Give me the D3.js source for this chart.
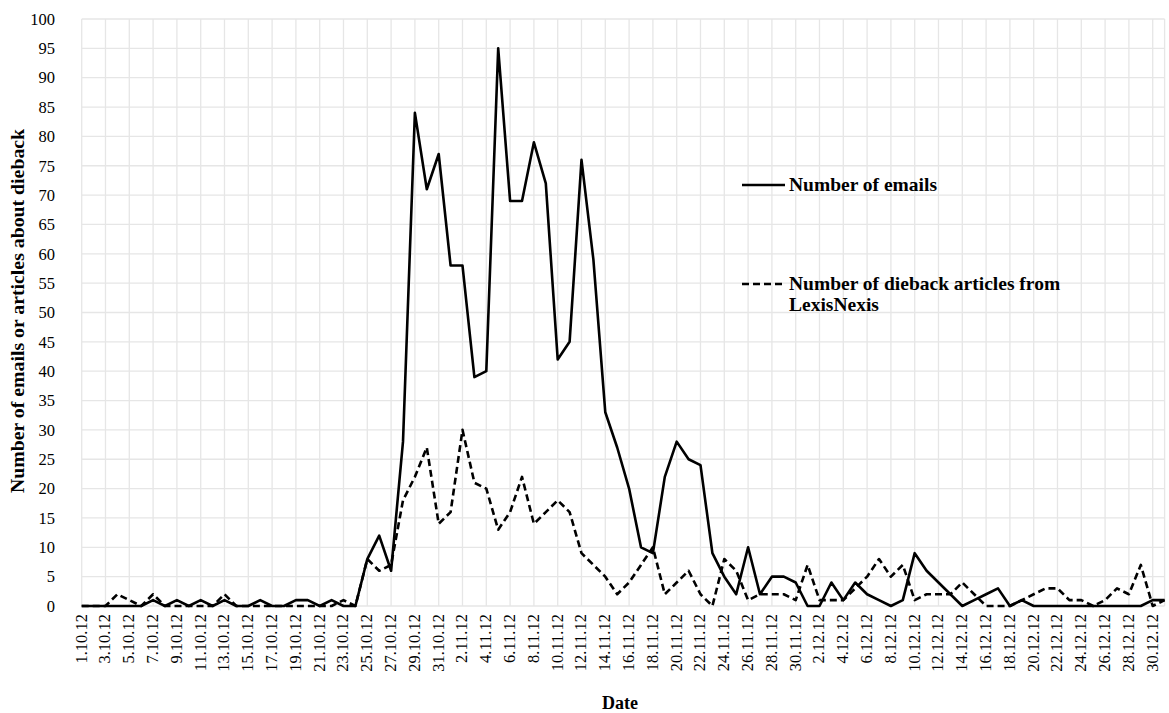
<!DOCTYPE html>
<html>
<head>
<meta charset="utf-8">
<script src="https://cdn.jsdelivr.net/npm/d3@7"></script>
<style>
  html, body { margin: 0; padding: 0; background: #fff; }
  svg { display: block; }
  text { font-family: "Liberation Serif", "Times New Roman", serif; fill: #000; }
</style>
</head>
<body>
<svg id="chart" width="1169" height="713"></svg>
<script>
const dates = [
  "1.10.12","2.10.12","3.10.12","4.10.12","5.10.12","6.10.12","7.10.12","8.10.12","9.10.12","10.10.12",
  "11.10.12","12.10.12","13.10.12","14.10.12","15.10.12","16.10.12","17.10.12","18.10.12","19.10.12","20.10.12",
  "21.10.12","22.10.12","23.10.12","24.10.12","25.10.12","26.10.12","27.10.12","28.10.12","29.10.12","30.10.12","31.10.12",
  "1.11.12","2.11.12","3.11.12","4.11.12","5.11.12","6.11.12","7.11.12","8.11.12","9.11.12","10.11.12",
  "11.11.12","12.11.12","13.11.12","14.11.12","15.11.12","16.11.12","17.11.12","18.11.12","19.11.12","20.11.12",
  "21.11.12","22.11.12","23.11.12","24.11.12","25.11.12","26.11.12","27.11.12","28.11.12","29.11.12","30.11.12",
  "1.12.12","2.12.12","3.12.12","4.12.12","5.12.12","6.12.12","7.12.12","8.12.12","9.12.12","10.12.12",
  "11.12.12","12.12.12","13.12.12","14.12.12","15.12.12","16.12.12","17.12.12","18.12.12","19.12.12","20.12.12",
  "21.12.12","22.12.12","23.12.12","24.12.12","25.12.12","26.12.12","27.12.12","28.12.12","29.12.12","30.12.12","31.12.12"
];

const emails = [
  0,0,0,0,0,0,1,0,1,0, 1,0,1,0,0,1,0,0,1,1, 0,1,0,0,8,12,6,28,84,71,77,
  58,58,39,40,95,69,69,79,72,42, 45,76,59,33,27,20,10,9,22,28, 25,24,9,5,2,10,2,5,5,4,
  0,0,4,1,4,2,1,0,1,9, 6,4,2,0,1,2,3,0,1,0, 0,0,0,0,0,0,0,0,0,1,1
];

const articles = [
  0,0,0,2,1,0,2,0,0,0, 0,0,2,0,0,0,0,0,0,0, 0,0,1,0,8,6,7,18,22,27,14,
  16,30,21,20,13,16,22,14,16,18, 16,9,7,5,2,4,7,10,2,4, 6,2,0,8,6,1,2,2,2,1,
  7,1,1,1,3,5,8,5,7,1, 2,2,2,4,2,0,0,0,1,2, 3,3,1,1,0,1,3,2,7,0,1
];

const yTicks = [0,5,10,15,20,25,30,35,40,45,50,55,60,65,70,75,80,85,90,95,100];

const seriesNames = ["Number of emails", "Number of dieback articles from", "LexisNexis"];

(function draw() {
  const svg = d3.select("#chart");
  const pLeft = 81.7, pRight = 1164.6, pTop = 19, pBottom = 606;

  const x = d3.scalePoint().domain(dates).range([pLeft, pRight]);
  const y = d3.scaleLinear().domain([0, 100]).range([pBottom, pTop]);

  const grid = svg.append("g");
  grid.selectAll("line.h").data(yTicks).enter().append("line")
    .attr("x1", pLeft).attr("x2", pRight)
    .attr("y1", d => y(d)).attr("y2", d => y(d))
    .attr("stroke", "#e6e6e6").attr("stroke-width", 1.3);
  const labelDates = dates.filter((d, i) => i % 2 === 0);
  grid.selectAll("line.v").data(labelDates.concat([dates[dates.length - 1]])).enter().append("line")
    .attr("x1", d => x(d)).attr("x2", d => x(d))
    .attr("y1", pTop).attr("y2", pBottom)
    .attr("stroke", "#e6e6e6").attr("stroke-width", 1.3);

  const yAxis = d3.axisLeft(y).tickValues(yTicks).tickSize(0).tickPadding(0);
  const yg = svg.append("g").attr("transform", "translate(55,0)").call(yAxis);
  yg.select(".domain").remove();
  yg.selectAll("text").attr("font-size", 16.5).attr("font-family", "Liberation Serif").attr("fill", "#111");

  const xAxis = d3.axisBottom(x).tickValues(labelDates).tickSize(0).tickPadding(0);
  const xg = svg.append("g").attr("transform", `translate(0,${pBottom})`).call(xAxis);
  xg.select(".domain").remove();
  xg.selectAll("text")
    .attr("font-size", 16.5).attr("font-family", "Liberation Serif").attr("fill", "#111")
    .attr("text-anchor", "end").attr("dy", "0.33em")
    .attr("transform", "translate(-1,8) rotate(-90)")
    .attr("x", 0).attr("y", 0);

  const lineGen = vals => d3.line().x((d, i) => x(dates[i])).y(d => y(d))(vals);
  svg.append("path").attr("d", lineGen(articles))
    .attr("fill", "none").attr("stroke", "#000").attr("stroke-width", 2.6)
    .attr("stroke-dasharray", "7,4").attr("stroke-linejoin", "round");
  svg.append("path").attr("d", lineGen(emails))
    .attr("fill", "none").attr("stroke", "#000").attr("stroke-width", 2.6)
    .attr("stroke-linejoin", "round");

  svg.append("text").attr("x", 620).attr("y", 709).attr("text-anchor", "middle")
    .attr("font-size", 18).attr("font-weight", "bold").text("Date");
  svg.append("text").attr("transform", "translate(24,311) rotate(-90)")
    .attr("text-anchor", "middle").attr("font-size", 19.8).attr("font-weight", "bold")
    .text("Number of emails or articles about dieback");

  const lg = svg.append("g");
  lg.append("line").attr("x1", 742).attr("x2", 785).attr("y1", 185).attr("y2", 185)
    .attr("stroke", "#000").attr("stroke-width", 2.6);
  lg.append("text").attr("x", 789).attr("y", 191).attr("font-size", 19.5).attr("font-weight", "bold").text(seriesNames[0]);
  lg.append("line").attr("x1", 742).attr("x2", 785).attr("y1", 284).attr("y2", 284)
    .attr("stroke", "#000").attr("stroke-width", 2.6).attr("stroke-dasharray", "7,4");
  lg.append("text").attr("x", 789).attr("y", 290).attr("font-size", 19.5).attr("font-weight", "bold").text(seriesNames[1]);
  lg.append("text").attr("x", 789).attr("y", 311).attr("font-size", 19.5).attr("font-weight", "bold").text(seriesNames[2]);
})();
</script>
</body>
</html>
